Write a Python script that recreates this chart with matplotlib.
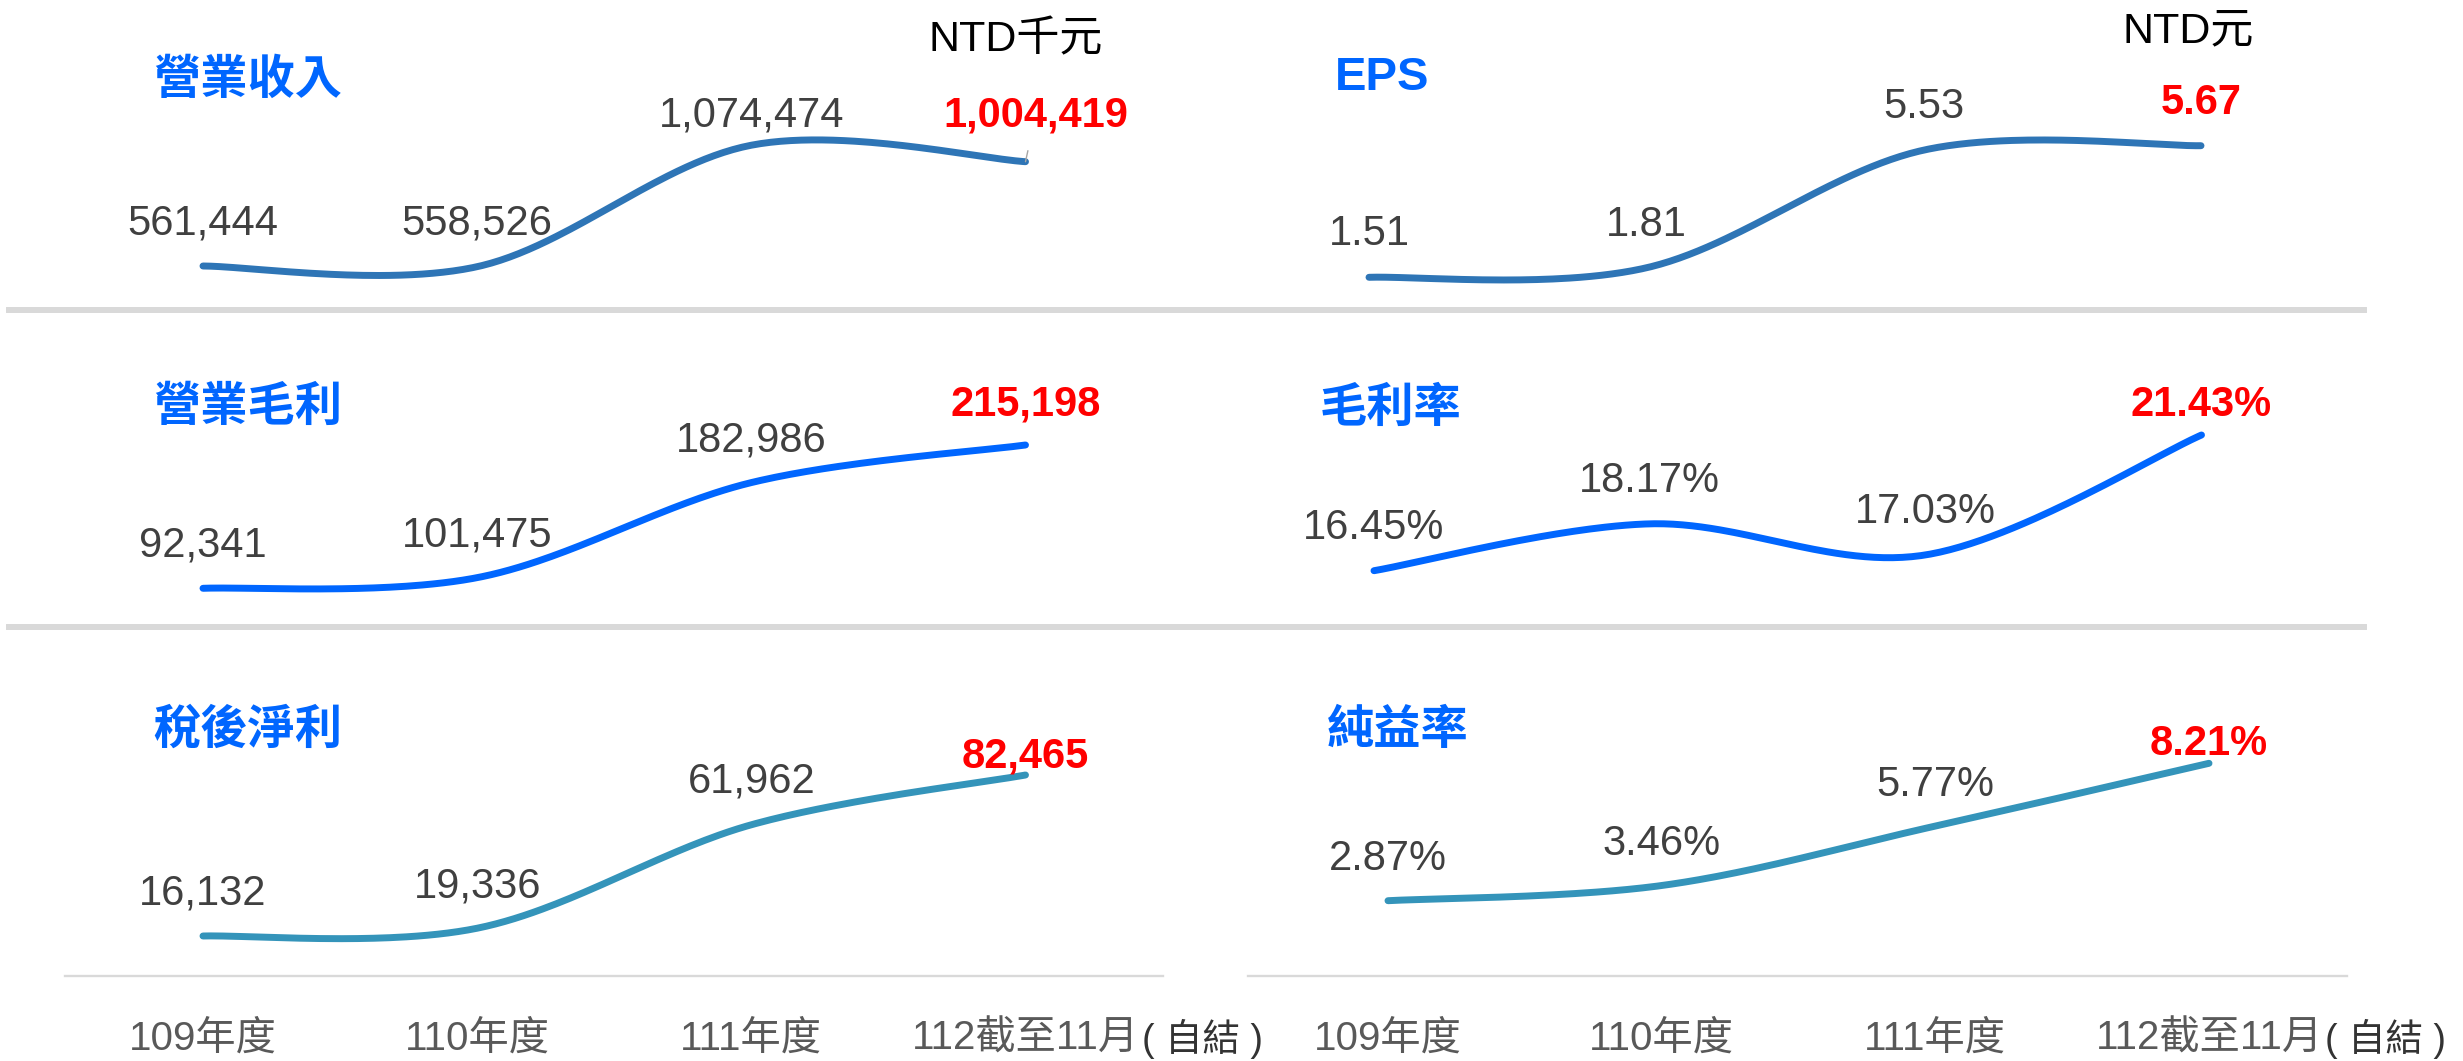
import numpy as np
import matplotlib
matplotlib.use('Agg')
import matplotlib.pyplot as plt
from matplotlib.lines import Line2D
from matplotlib.transforms import blended_transform_factory

plt.rcParams['font.family'] = ['Liberation Sans', 'Noto Sans CJK TC']

W, H = 2463, 1061

# data
years = ['109年度', '110年度', '111年度', '112截至11月']
year_note = '( 自結 )'

revenue = [561444, 558526, 1074474, 1004419]
gross_profit = [92341, 101475, 182986, 215198]
net_income = [16132, 19336, 61962, 82465]
eps = [1.51, 1.81, 5.53, 5.67]
gross_margin = [16.45, 18.17, 17.03, 21.43]
net_margin = [2.87, 3.46, 5.77, 8.21]

titles = ['營業收入', '營業毛利', '稅後淨利', 'EPS', '毛利率', '純益率']
units = ['NTD千元', 'NTD元']

c_dark = '#2E75B6'
c_blue = '#0066FF'
c_teal = '#3494BA'

fmt_int = lambda v: f'{v:,}'
fmt_eps = lambda v: f'{v:.2f}'
fmt_pct = lambda v: f'{v:.2f}%'

# panel layout in pixels: x of first/last point, y of first/last point,
# title position, label offsets above point (px), colour
panels = [
    (revenue,      fmt_int, 203, 1025.5, 266.0, 161.7, (153, 82),  [42, 43, 30, 46], c_dark),
    (gross_profit, fmt_int, 203, 1025.5, 588.3, 445.0, (153, 409), [43, 42, 42, 40], c_blue),
    (net_income,   fmt_int, 203, 1025.5, 936.0, 775.0, (153, 731), [42, 42, 43, 18], c_teal),
    (eps,          fmt_eps, 1369, 2201,  277.3, 145.7, (1335, 78), [43, 43, 43, 43], c_dark),
    (gross_margin, fmt_pct, 1374, 2201.5, 570.7, 435.0, (1320, 410), [43, 43, 43, 30], c_blue),
    (net_margin,   fmt_pct, 1388, 2209,  900.7, 763.3, (1327, 732), [42, 42, 41, 19], c_teal),
]


def smooth(xs, ys, n=60):
    # excel-like smoothed line (catmull-rom as cubic bezier)
    p = np.column_stack([xs, ys]).astype(float)
    ext = np.vstack([p[0], p, p[-1]])
    t = np.linspace(0, 1, n)[:, None]
    out = []
    for i in range(len(p) - 1):
        p0, p1, p2, p3 = ext[i], ext[i + 1], ext[i + 2], ext[i + 3]
        c1 = p1 + (p2 - p0) / 6
        c2 = p2 - (p3 - p1) / 6
        out.append((1 - t) ** 3 * p1 + 3 * (1 - t) ** 2 * t * c1
                   + 3 * (1 - t) * t ** 2 * c2 + t ** 3 * p2)
    pts = np.vstack(out)
    return pts[:, 0], pts[:, 1]


px = 0.72  # pixel -> points at dpi 100

fig = plt.figure(figsize=(W / 100, H / 100), dpi=100)

# separators and baselines
for y in [309.5, 626.5]:
    fig.add_artist(Line2D([9 / W, 2364 / W], [1 - y / H, 1 - y / H],
                          transform=fig.transFigure, color='#d9d9d9', lw=4.3))
for x0, x1 in [(65, 1163), (1248, 2347)]:
    fig.add_artist(Line2D([x0 / W, x1 / W], [1 - 976 / H, 1 - 976 / H],
                          transform=fig.transFigure, color='#d9d9d9', lw=1.7))

for k, (vals, fmt, x1, x4, y1, y4, tpos, dys, col) in enumerate(panels):
    ax = fig.add_axes([x1 / W, 1 - y1 / H, (x4 - x1) / W, (y1 - y4) / H])
    ax.set_xlim(0, 3)
    ax.set_ylim(vals[0], vals[-1])
    ax.axis('off')
    xs = np.arange(len(vals))
    sx, sy = smooth(xs, vals)
    ax.plot(sx, sy, color=col, lw=5, solid_capstyle='round', clip_on=False)

    for i, v in enumerate(vals):
        last = i == len(vals) - 1
        dx = 10 if (k == 0 and last) else 0
        kw = dict(xy=(i, v), xytext=(dx * px, dys[i] * px), textcoords='offset points',
                  ha='center', va='center', fontsize=30, annotation_clip=False)
        if last:
            kw.update(color='#FF0000', fontweight='bold')
            if k == 0:
                kw['arrowprops'] = dict(arrowstyle='-', color='#a6a6a6', lw=1,
                                        shrinkA=9, shrinkB=0)
        else:
            kw.update(color='#404040')
        ax.annotate(fmt(v), **kw)

    fig.text(tpos[0] / W, 1 - tpos[1] / H, titles[k], color=c_blue, fontsize=34,
             fontweight='bold', ha='left', va='center')

    # category labels under the bottom panels
    if k in (2, 5):
        tr = blended_transform_factory(ax.transData, fig.transFigure)
        for i, lab in enumerate(years):
            t = ax.text(i, 1 - 1039 / H, lab, transform=tr, ha='center', va='center',
                        fontsize=29, color='#595959')
        ax.annotate(year_note, xy=(1, 0.5), xycoords=t, xytext=(2, 0),
                    textcoords='offset points', ha='left', va='center',
                    fontsize=27, color='#333333')

fig.text(928 / W, 1 - 40 / H, units[0], fontsize=31, color='black', ha='left', va='center')
fig.text(2122 / W, 1 - 31.5 / H, units[1], fontsize=31, color='black', ha='left', va='center')

fig.savefig('out.png', dpi=100, facecolor='white')
